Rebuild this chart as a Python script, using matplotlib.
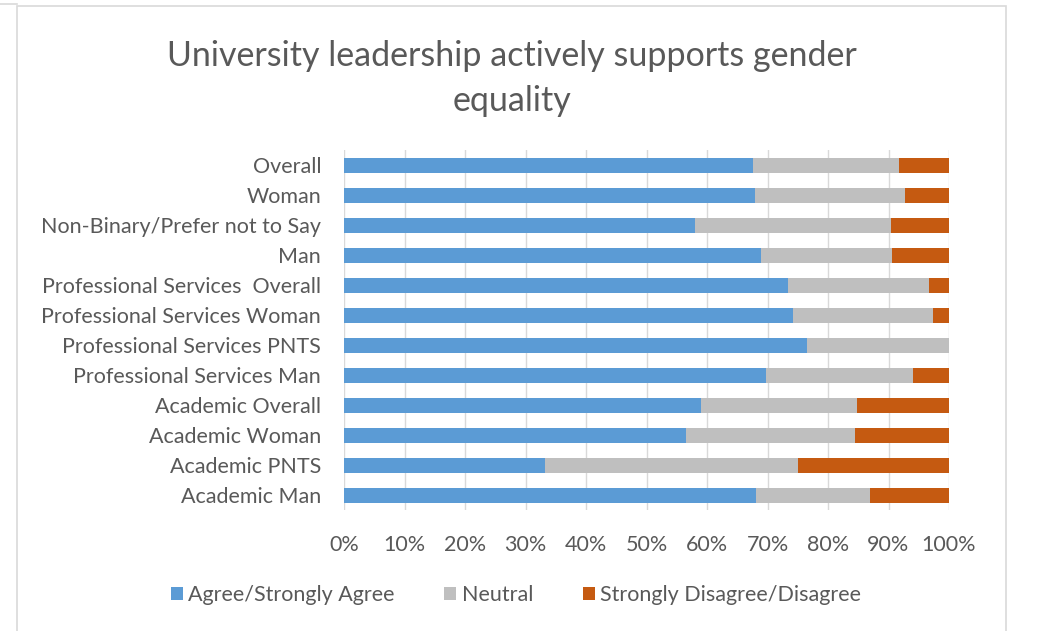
import matplotlib.pyplot as plt
import numpy as np
from matplotlib.patches import Rectangle
from matplotlib.lines import Line2D

# survey groups, top row first
groups = ['Overall', 'Woman', 'Non-Binary/Prefer not to Say', 'Man',
          'Professional Services  Overall', 'Professional Services Woman',
          'Professional Services PNTS', 'Professional Services Man',
          'Academic Overall', 'Academic Woman', 'Academic PNTS', 'Academic Man']

# percentages per response
agree = [67.6, 67.9, 58.0, 68.9, 73.4, 74.2, 76.5, 69.7, 59.0, 56.5, 33.3, 68.1]
neutral = [24.2, 24.8, 32.4, 21.6, 23.3, 23.1, 23.5, 24.3, 25.8, 27.9, 41.7, 18.9]
disagree = [8.2, 7.3, 9.6, 9.5, 3.3, 2.7, 0.0, 6.0, 15.2, 15.6, 25.0, 13.0]

series = ['Agree/Strongly Agree', 'Neutral', 'Strongly Disagree/Disagree']
colors = ['#5B9BD5', '#BFBFBF', '#C55A11']
txt = '#595959'

plt.rcParams['font.family'] = ['Lato', 'DejaVu Sans']

W, H = 1038, 631
fig = plt.figure(figsize=(W / 100, H / 100), dpi=100)
# chart frame
fig.patches.append(Rectangle((17 / W, -0.01), 989 / W, 1 - 6 / H + 0.01,
                             transform=fig.transFigure, fill=False,
                             edgecolor='#D9D9D9', linewidth=1.2))
fig.lines.append(Line2D([0, 17 / W], [1 - 4 / H, 1 - 4 / H], transform=fig.transFigure,
                        color='#D9D9D9', linewidth=1.2))

ax = fig.add_axes([344 / W, 121 / H, 605 / W, 360 / H])
y = np.arange(len(groups))
left = np.zeros(len(groups))
for vals, name, c in zip([agree, neutral, disagree], series, colors):
    ax.barh(y, vals, left=left, height=0.5, color=c, label=name, zorder=2)
    left += np.array(vals)

ax.set_xlim(0, 100)
ax.set_ylim(len(groups) - 0.5, -0.5)
ax.set_xticks(np.arange(0, 101, 10))
ax.set_xticklabels(['%d%%' % v for v in range(0, 101, 10)])
ax.set_yticks(y)
ax.set_yticklabels(groups)
ax.tick_params(length=0, labelsize=15.5, colors=txt)
ax.tick_params(axis='x', pad=18)
ax.tick_params(axis='y', pad=16.5)
ax.grid(axis='x', color='#D9D9D9', linewidth=1, zorder=0)
for s in ax.spines.values():
    s.set_visible(False)

fig.text(512 / W, 1 - 56 / H, 'University leadership actively supports gender',
         ha='center', va='center', fontsize=24.5, color=txt)
fig.text(512 / W, 1 - 101 / H, 'equality',
         ha='center', va='center', fontsize=24.5, color=txt)

fig.legend(loc='center', bbox_to_anchor=(516 / W, 1 - 595 / H), ncol=3,
           frameon=False, fontsize=15.5, labelcolor=txt, handlelength=0.56,
           handleheight=0.56, handletextpad=0.25, columnspacing=2.3)

fig.savefig('out.png', dpi=100)
